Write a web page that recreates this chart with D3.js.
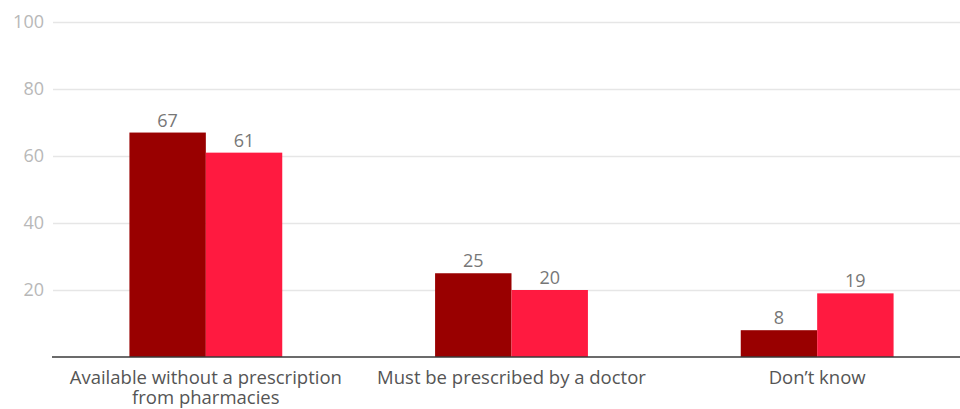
<!DOCTYPE html>
<html>
<head>
<meta charset="utf-8">
<script src="https://cdn.jsdelivr.net/npm/d3@7"></script>
<style>
  html, body { margin: 0; padding: 0; background: #fff; }
  svg { display: block; font-family: "Open Sans", Lato, sans-serif; }
</style>
</head>
<body>
<svg id="chart" width="960" height="409"></svg>
<script>
// Survey answers, two series per answer
const categories = [
  ["Available without a prescription", "from pharmacies"],
  ["Must be prescribed by a doctor"],
  ["Don\u2019t know"]
];
const seriesKeys = ["a", "b"];
const seriesA = [67, 25, 8];
const seriesB = [61, 20, 19];
const yTicks = [20, 40, 60, 80, 100];

const colors = { a: "#990000", b: "#ff1a40" };

const svg = d3.select("#chart");
const margin = { left: 53, right: -10, top: 22, bottom: 52 };
const W = 960, H = 409;

const x = d3.scaleBand()
  .domain(d3.range(categories.length))
  .range([margin.left, W - margin.right])
  .paddingInner(0)
  .paddingOuter(0);

const xInner = d3.scaleBand()
  .domain(seriesKeys)
  .range([0, x.bandwidth()])
  .paddingOuter(1)
  .paddingInner(0);

const y = d3.scaleLinear()
  .domain([0, 100])
  .range([H - margin.bottom, margin.top]);

// Gridlines and tick labels
const yAxis = svg.append("g")
  .attr("transform", `translate(${margin.left},0)`)
  .call(d3.axisLeft(y).tickValues(yTicks).tickSize(-(W - margin.left)).tickPadding(9));
yAxis.select(".domain").remove();
yAxis.selectAll(".tick line").attr("stroke", "#e6e6e6").attr("stroke-width", 1.5);
yAxis.selectAll(".tick text")
  .attr("fill", "#b8b8b8")
  .style("font-size", "18px")
  .style("font-family", "'Open Sans', Lato, sans-serif");

const rows = categories.map((c, i) => ({ i, values: [
  { key: "a", v: seriesA[i] },
  { key: "b", v: seriesB[i] }
]}));

const groups = svg.append("g").selectAll("g")
  .data(rows).join("g")
  .attr("transform", d => `translate(${x(d.i)},0)`);

groups.selectAll("rect")
  .data(d => d.values).join("rect")
  .attr("x", d => xInner(d.key))
  .attr("y", d => y(d.v))
  .attr("width", xInner.bandwidth())
  .attr("height", d => y(0) - y(d.v))
  .attr("fill", d => colors[d.key]);

groups.selectAll("text.val")
  .data(d => d.values).join("text")
  .attr("class", "val")
  .attr("x", d => xInner(d.key) + xInner.bandwidth() / 2)
  .attr("y", d => y(d.v) - 6)
  .attr("text-anchor", "middle")
  .attr("fill", "#777")
  .style("font-size", "18px")
  .text(d => d.v);

// Baseline
svg.append("line")
  .attr("x1", margin.left - 1).attr("x2", W)
  .attr("y1", y(0)).attr("y2", y(0))
  .attr("stroke", "#3a3a3a").attr("stroke-width", 1.5);

// Category labels
const labels = svg.append("g").selectAll("text")
  .data(categories).join("text")
  .attr("x", (d, i) => x(i) + x.bandwidth() / 2)
  .attr("y", y(0) + 27)
  .attr("text-anchor", "middle")
  .attr("fill", "#555")
  .style("font-size", "18.5px");
labels.selectAll("tspan")
  .data(d => d).join("tspan")
  .attr("x", function() { return this.parentNode.getAttribute("x"); })
  .attr("dy", (d, j) => j === 0 ? 0 : 20)
  .text(d => d);
</script>
</body>
</html>
